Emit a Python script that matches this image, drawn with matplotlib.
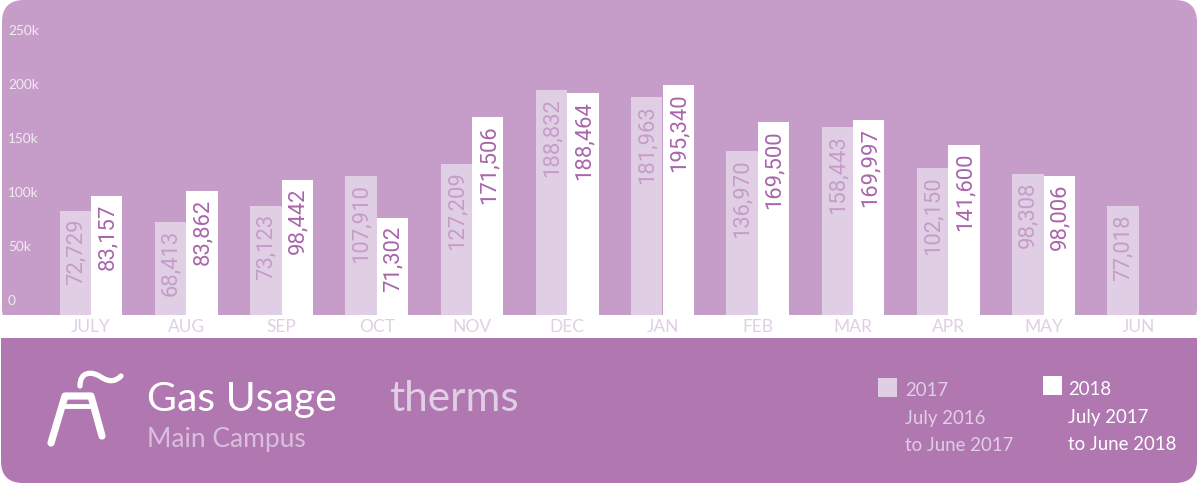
import matplotlib
matplotlib.use("Agg")
import matplotlib.pyplot as plt
from matplotlib.patches import FancyBboxPatch, Rectangle, PathPatch
from matplotlib.path import Path

months = ["JULY", "AUG", "SEP", "OCT", "NOV", "DEC", "JAN", "FEB", "MAR", "APR", "MAY", "JUN"]
labels_2017 = [72729, 68413, 73123, 107910, 127209, 188832, 181963, 136970, 158443, 102150, 98308, 77018]
labels_2018 = [83157, 83862, 98442, 71302, 171506, 188464, 195340, 169500, 169997, 141600, 98006]
# drawn bar heights as read against the y axis of the picture (thousands of therms)
drawn_2017 = [81.8, 71.6, 86.1, 113.9, 125.3, 193.5, 186.7, 136.8, 159.0, 121.3, 116.0, 86.1]
drawn_2018 = [95.4, 100.0, 110.2, 75.0, 168.5, 190.7, 198.1, 163.9, 165.7, 142.6, 113.9]
y_ticks = [0, 50, 100, 150, 200, 250]
y_tick_labels = ["0", "50k", "100k", "150k", "200k", "250k"]

LIGHT = "#C69CC8"
DARK = "#B077B1"
PALE = "#E0CFE4"
LABEL = "#A865AB"
FONT = "Lato"
NUM_FONT = "Roboto"
W, H = 1200, 485

fig = plt.figure(figsize=(W / 100, H / 100), dpi=100, facecolor="white")

# page layer in pixel coordinates
bg = fig.add_axes([0, 0, 1, 1])
bg.set_xlim(0, W)
bg.set_ylim(H, 0)
bg.axis("off")
bg.add_patch(FancyBboxPatch((2, 1), 1195, 330, boxstyle="round,pad=0,rounding_size=22", fc=LIGHT, ec="none", zorder=1))
bg.add_patch(FancyBboxPatch((1, 316), 1196, 168, boxstyle="round,pad=0,rounding_size=22", fc=DARK, ec="none", zorder=2))
bg.add_patch(Rectangle((0, 316), 1197, 22.5, fc="white", ec="none", zorder=3))

# chart layer: x in category index, y in thousands
px_per_k = 1.08
zero_px = 300.0
bottom_px = 316.0
ax = fig.add_axes([0, 1 - bottom_px / H, 1, bottom_px / H])
ax.patch.set_alpha(0)
step = 95.25
ax.set_xlim(-91 / step, (W - 91) / step)
y_floor = -(bottom_px - zero_px) / px_per_k
ax.set_ylim(y_floor, zero_px / px_per_k)
for s in ax.spines.values():
    s.set_visible(False)
ax.set_xticks(range(len(months)))
ax.set_xticklabels(months, fontsize=12.5, color=PALE, family=FONT)
ax.tick_params(axis="x", length=0, pad=2.5)
ax.set_yticks(y_ticks)
ax.set_yticklabels(y_tick_labels, fontsize=9.8, color="#F3EAF4", family=FONT, ha="left")
ax.tick_params(axis="y", length=0, pad=-5.8, direction="in")

bar_w = 31.4 / step
for i, d in enumerate(drawn_2017):
    ax.bar(i - bar_w / 2, d - y_floor, bar_w, bottom=y_floor, color=PALE, zorder=2)
    ax.annotate(f"{labels_2017[i]:,}", (i - bar_w / 2, d), xytext=(0.3, -5), textcoords="offset points",
                rotation=90, ha="center", va="top", fontsize=15.8, color=LIGHT, family=NUM_FONT, zorder=3)
for i, d in enumerate(drawn_2018):
    ax.bar(i + bar_w / 2, d - y_floor, bar_w, bottom=y_floor, color="white", zorder=2)
    ax.annotate(f"{labels_2018[i]:,}", (i + bar_w / 2, d), xytext=(0.8, -5), textcoords="offset points",
                rotation=90, ha="center", va="top", fontsize=15.8, color=LABEL, family=NUM_FONT, zorder=3)

# footer texts and icon
def T(x, y, s, size, color):
    bg.text(x, y, s, fontsize=size, color=color, family=FONT, va="baseline", ha="left", zorder=6)

T(147, 411, "Gas Usage", 29.5, "white")
T(147, 447, "Main Campus", 19, "#D9BFDC")
T(389, 411, "therms", 30.5, "#E0CFE4")
T(905, 396, "2017", 13.4, "#E0CFE4")
T(905, 424, "July 2016", 13.4, "#E0CFE4")
T(905, 451, "to June 2017", 13.4, "#E0CFE4")
T(1068, 395, "2018", 13.4, "white")
T(1068, 423, "July 2017", 13.4, "white")
T(1068, 450, "to June 2018", 13.4, "white")
bg.add_patch(Rectangle((878, 379), 19, 19, fc=PALE, ec="none", zorder=6))
bg.add_patch(Rectangle((1043, 377), 19, 19, fc="white", ec="none", zorder=6))

icon_kw = dict(color="white", lw=5.2, solid_capstyle="round", solid_joinstyle="round", zorder=6)
bg.plot([51, 65, 91, 102], [444, 397, 397, 437], **icon_kw)
bg.plot([63, 93], [407, 407], color="white", lw=3.5, solid_capstyle="butt", zorder=6)
curve = Path([(80, 387), (80, 372), (92, 372), (101, 378), (110, 384), (116, 382), (121, 377)],
             [Path.MOVETO, Path.CURVE4, Path.CURVE4, Path.CURVE4, Path.CURVE4, Path.CURVE4, Path.CURVE4])
bg.add_patch(PathPatch(curve, fc="none", ec="white", lw=3.8, capstyle="round", zorder=6))

fig.savefig("out.png", dpi=100, facecolor="white")
